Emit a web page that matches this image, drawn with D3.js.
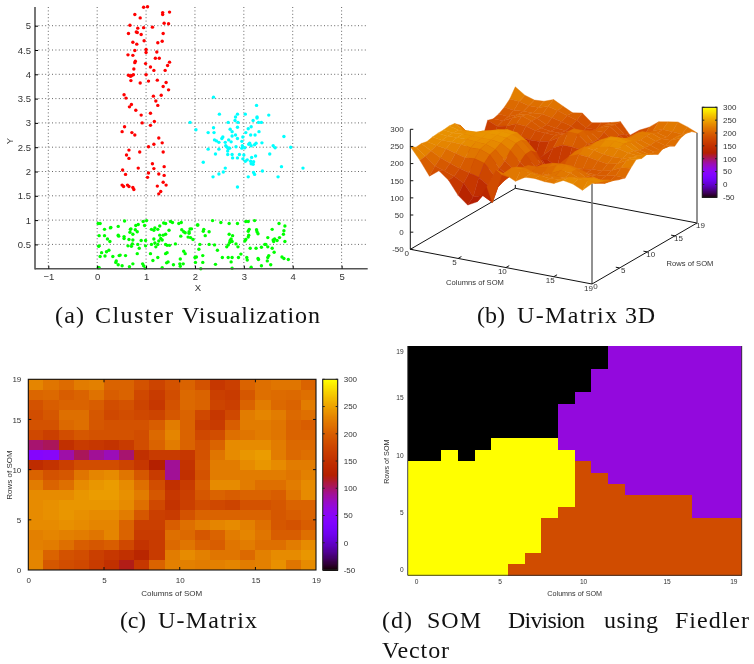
<!DOCTYPE html>
<html>
<head>
<meta charset="utf-8">
<script src="https://cdn.jsdelivr.net/npm/d3@7"></script>
<style>
  html, body { margin: 0; padding: 0; background: #fff; }
  svg { display: block; filter: blur(0.45px); }
  text { font-family: "Liberation Sans", sans-serif; fill: #333; }
  .caption { font-family: "Liberation Serif", serif; font-size: 24px; fill: #111; }
  .domain { display: none; }
  .cell { shape-rendering: crispEdges; }
</style>
</head>
<body>
<script>
// scatter points of panel a, as [x, y]
const redPoints = [[.95,5.38],[1.03,5.39],[.77,5.23],[.88,5.16],[1.34,5.27],[1.34,5.23],[1.48,5.28],[.67,5.01],[1.37,5.05],[1.46,5.04],[1.13,4.97],[.95,4.96],[.83,4.95],[.8,4.87],[.82,4.86],[.64,4.84],[.9,4.82],[1.35,4.84],[.96,4.69],[.73,4.66],[.81,4.62],[1.24,4.65],[1.33,4.68],[.77,4.49],[1,4.51],[1,4.45],[1.22,4.46],[.63,4.4],[.73,4.39],[1.19,4.33],[1.27,4.33],[.78,4.27],[.77,4.24],[.99,4.22],[1.48,4.25],[1.44,4.18],[1.09,4.15],[.75,4.11],[1.16,4.08],[1.39,4.08],[1,3.99],[.64,3.98],[.68,3.96],[.7,3.97],[.74,3.99],[.69,3.87],[.88,3.82],[1.05,3.86],[1.23,3.88],[1.41,3.83],[1.35,3.75],[1.46,3.68],[.55,3.58],[.59,3.51],[1.15,3.55],[1.31,3.57],[1.2,3.45],[.7,3.38],[.66,3.33],[1.24,3.36],[.79,3.26],[1.09,3.2],[.9,3.16],[.92,3],[1.17,3.03],[1.09,2.95],[.56,2.92],[.51,2.82],[.71,2.8],[.77,2.75],[1.26,2.69],[1.33,2.59],[1.16,2.56],[1.05,2.51],[.65,2.44],[.87,2.4],[1.35,2.4],[.6,2.34],[.65,2.27],[.52,2.03],[.58,1.94],[.84,2.07],[1.13,2.16],[1.16,2.06],[1.37,2.1],[1.05,1.97],[1.03,1.88],[1.26,1.95],[1.37,1.92],[1.35,1.78],[.51,1.72],[.54,1.69],[.62,1.72],[.65,1.69],[.73,1.67],[.75,1.63],[1.23,1.7],[1.41,1.72],[1.3,1.59],[1.26,1.54]];
const cyanPoints = [[2.38,3.53],[3.26,3.36],[2.5,3.18],[2.87,3.18],[3.03,3.18],[2.83,3.12],[3.51,3.16],[3.27,3.12],[3.27,3.1],[2.82,3.05],[2.68,3.01],[2.88,3.01],[3.19,3.05],[3.3,3.01],[3.36,3.01],[1.9,3.01],[2.02,2.86],[2.38,2.9],[2.27,2.8],[2.39,2.8],[2.87,2.91],[2.72,2.87],[2.76,2.82],[3.15,2.92],[3.09,2.88],[3.04,2.8],[3.31,2.82],[3.14,2.75],[3.23,2.75],[2.83,2.75],[2.76,2.73],[2.98,2.71],[3.82,2.72],[2.57,2.71],[2.55,2.68],[2.4,2.65],[2.44,2.63],[2.49,2.6],[2.69,2.65],[2.87,2.68],[2.74,2.61],[2.62,2.6],[2.96,2.62],[3.12,2.58],[3.1,2.56],[3.25,2.58],[3.37,2.59],[2.63,2.53],[2.66,2.5],[2.71,2.48],[2.68,2.47],[2.84,2.51],[2.97,2.53],[3.02,2.49],[2.96,2.48],[3.15,2.53],[3.22,2.55],[3.6,2.53],[3.64,2.49],[3.96,2.5],[2.27,2.46],[2.49,2.46],[2.42,2.36],[2.67,2.42],[2.67,2.35],[2.76,2.35],[2.91,2.35],[3,2.34],[2.77,2.28],[2.87,2.28],[2.98,2.26],[3.24,2.32],[3.16,2.29],[3.07,2.24],[3.03,2.21],[3.14,2.21],[3.2,2.2],[3.15,2.16],[3.19,2.15],[3.53,2.36],[2.17,2.19],[2.62,2.07],[2.58,1.99],[2.49,1.95],[2.37,1.89],[3.2,1.98],[3.22,1.94],[3.09,1.89],[3.38,2.01],[3.77,2.1],[3.7,1.89],[4.21,2.07],[2.87,1.68]];
const greenPoints = [[.56,.98],[.02,.93],[.06,.93],[.27,.84],[.15,.81],[.43,.87],[.79,.89],[.97,.89],[.68,.81],[.78,.8],[.67,.75],[.82,.76],[.94,.97],[1.01,.99],[1.36,.94],[1.4,.93],[1.5,.97],[1.54,.95],[1.67,.93],[1.72,.95],[1.11,.81],[1.18,.84],[1.16,.79],[1.24,.81],[1.28,.88],[1.47,.79],[1.73,.8],[1.77,.76],[1.8,.74],[1.9,.82],[1.93,.82],[1.88,.76],[2.05,.9],[.04,.68],[.15,.68],[.21,.61],[.26,.56],[.43,.69],[.44,.67],[.55,.66],[.55,.62],[.65,.6],[.73,.59],[.73,.71],[.9,.58],[.99,.58],[1.16,.61],[1.28,.69],[1.35,.69],[1.3,.62],[1.4,.71],[1.33,.59],[1.26,.57],[1.18,.53],[1.11,.5],[1.4,.5],[1.43,.48],[1.48,.48],[1.24,.5],[1.2,.45],[1.6,.51],[1.71,.67],[1.88,.73],[1.86,.65],[1.91,.64],[1.96,.6],[.63,.47],[.7,.46],[.72,.51],[.83,.5],[.86,.42],[.99,.47],[.04,.47],[.24,.38],[.09,.33],[.19,.35],[.16,.26],[.06,.25],[.32,.25],[.45,.27],[.47,.28],[.58,.27],[.82,.31],[1.09,.31],[1.14,.17],[1.24,.23],[1.4,.31],[1.43,.33],[1.33,.02],[1.77,.36],[1.8,.31],[2,.23],[2.08,.4],[.39,.16],[.38,.13],[.43,.08],[.51,.06],[.66,.04],[.73,.1],[.93,.1],[.95,.06],[.98,.01],[1.45,.14],[1.42,.12],[1.56,.08],[1.7,.2],[1.69,.1],[1.76,.1],[1.7,.05],[.02,.02],[.04,.02],[2.36,.99],[2.53,.95],[2.87,.93],[2.7,.93],[2.06,.9],[2.18,.81],[2.17,.77],[2.29,.76],[2.21,.68],[3.04,.97],[3.09,.97],[3.22,.99],[3.11,.81],[3.09,.77],[3.26,.8],[3.27,.76],[3.29,.72],[3.58,.81],[3.72,.93],[3.84,.88],[3.82,.78],[3.81,.71],[3.73,.64],[3.63,.61],[3.6,.59],[3.49,.64],[3.61,.56],[3.68,.58],[3.84,.56],[2.7,.71],[2.77,.68],[2.74,.61],[2.72,.58],[2.71,.54],[2.76,.56],[3.1,.69],[3.09,.65],[3.04,.6],[3.02,.57],[2.1,.5],[2.29,.5],[2.4,.49],[2.68,.49],[2.65,.45],[2.84,.51],[2.88,.45],[2.46,.38],[3.13,.42],[3.25,.42],[3.36,.44],[3.43,.5],[3.45,.5],[3.49,.45],[3.58,.42],[3.62,.34],[2.16,.27],[2.56,.23],[2.68,.23],[2.76,.23],[2.94,.3],[2.89,.23],[2.74,.14],[3.06,.23],[3.07,.18],[3.29,.21],[3.3,.19],[3.51,.27],[3.49,.23],[3.48,.16],[3.78,.24],[3.82,.21],[3.91,.19],[2.16,.13],[2.42,.09],[3.36,.06],[3.55,.08],[3.15,.03],[2.12,0],[2.76,.01],[2.03,.24],[2.01,.13],[.03,.46],[.28,.85],[.84,.91],[.69,.82]];

// panel c, one row per row of SOM (row 0 first), 19 cells each
const umatrixCells = [
  [232,195,185,180,165,150,120,160,205,228,228,225,228,232,225,228,239,220,236],
  [232,205,190,185,170,160,150,135,165,225,236,228,220,220,210,228,236,236,243],
  [228,225,215,200,195,200,180,155,165,210,220,205,200,220,225,215,215,225,236],
  [228,232,228,225,220,232,205,165,165,215,210,195,205,225,232,220,200,200,215],
  [236,236,239,236,232,232,205,170,170,200,215,225,232,236,228,215,195,190,200],
  [236,239,243,239,236,236,225,195,170,165,190,205,205,205,205,205,195,200,205],
  [236,239,243,243,243,243,236,215,180,155,170,185,180,175,190,190,195,205,205],
  [236,236,236,243,247,247,239,225,195,160,170,195,205,200,205,205,200,220,236],
  [225,205,215,236,243,247,236,215,185,150,165,200,236,236,225,215,215,225,236],
  [205,190,195,220,232,236,220,195,165,90,150,190,225,225,225,225,225,220,228],
  [145,155,170,185,185,185,175,160,125,90,155,195,225,225,236,243,236,225,225],
  [45,50,85,105,90,80,100,150,165,165,160,190,220,236,243,247,225,210,215],
  [100,105,150,165,160,155,165,185,205,225,205,190,205,236,236,236,225,210,210],
  [180,170,185,195,190,190,190,185,210,232,205,180,185,215,220,225,220,205,205],
  [190,190,210,215,195,190,190,190,200,225,205,170,165,200,225,225,220,205,200],
  [185,195,215,215,195,180,185,180,175,195,205,180,160,180,225,232,225,210,215],
  [190,200,205,205,200,185,190,175,160,190,210,205,175,170,205,225,210,205,225],
  [208,210,200,205,218,200,205,180,165,185,210,205,170,165,195,215,212,210,215],
  [232,220,212,225,228,205,205,190,175,190,205,190,160,170,205,215,220,220,205]
];

// panel b, heights at the 20x20 grid nodes (row 0 first)
const surfaceHeights = [
  [250,215,174,195,173,134,111,126,175,230,220,207,224,226,222,222,236,231,218,243],
  [238,217,194,185,175,161,125,135,120,206,231,231,226,226,222,224,236,236,237,236],
  [240,224,209,198,188,181,173,155,155,191,224,224,214,215,219,220,225,230,236,231],
  [236,230,226,218,210,213,205,176,163,189,214,208,201,213,226,224,213,210,220,225],
  [240,236,236,235,230,231,220,186,168,188,210,211,215,226,232,225,208,196,201,215],
  [242,238,240,240,238,236,226,199,176,176,193,209,218,221,220,214,203,195,199,208],
  [242,238,241,241,240,240,236,219,190,168,170,188,194,191,194,198,196,199,204,203],
  [244,238,240,242,244,244,241,231,204,173,164,180,191,190,193,198,198,205,218,222],
  [242,228,225,236,243,245,242,231,205,173,161,183,210,221,218,213,209,215,231,238],
  [228,206,201,218,236,241,237,218,190,148,139,176,214,233,229,223,220,221,229,232],
  [175,174,178,193,206,211,205,188,161,118,121,173,209,225,229,235,235,228,225,235],
  [70,99,115,136,141,135,135,146,150,136,143,175,208,228,239,243,240,225,219,226],
  [40,75,98,126,130,121,125,150,176,190,189,186,201,226,240,241,236,218,211,216],
  [150,139,153,174,178,174,175,181,196,219,218,195,190,211,229,231,228,215,208,226],
  [195,183,189,201,199,191,190,189,196,218,218,190,175,191,215,224,223,213,204,221],
  [190,190,203,214,205,190,186,186,186,199,208,190,169,176,208,228,226,215,208,212],
  [195,193,204,210,204,190,185,183,173,180,200,200,180,171,195,223,224,213,214,225],
  [205,202,204,204,207,201,195,188,170,175,199,208,189,170,184,210,215,209,214,230],
  [220,218,211,211,219,213,204,195,178,179,198,203,181,166,184,208,216,215,213,226],
  [246,227,218,220,230,216,202,207,184,189,195,203,169,189,203,224,229,234,225,213]
];

// panel d, cluster of each SOM cell (row 0 first): 0 black, 1 violet, 2 orange, 3 yellow
const clusterCells = [
  [3,3,3,3,3,3,2,2,2,2,2,2,2,2,2,2,2,2,2,2],
  [3,3,3,3,3,3,3,2,2,2,2,2,2,2,2,2,2,2,2,2],
  [3,3,3,3,3,3,3,3,2,2,2,2,2,2,2,2,2,2,2,2],
  [3,3,3,3,3,3,3,3,2,2,2,2,2,2,2,2,2,2,2,2],
  [3,3,3,3,3,3,3,3,2,2,2,2,2,2,2,2,2,2,2,2],
  [3,3,3,3,3,3,3,3,3,2,2,2,2,2,2,2,2,1,1,1],
  [3,3,3,3,3,3,3,3,3,3,2,2,2,2,2,2,2,1,1,1],
  [3,3,3,3,3,3,3,3,3,3,2,2,2,1,1,1,1,1,1,1],
  [3,3,3,3,3,3,3,3,3,3,2,2,1,1,1,1,1,1,1,1],
  [3,3,3,3,3,3,3,3,3,3,2,1,1,1,1,1,1,1,1,1],
  [0,0,3,0,3,3,3,3,3,3,1,1,1,1,1,1,1,1,1,1],
  [0,0,0,0,0,3,3,3,3,1,1,1,1,1,1,1,1,1,1,1],
  [0,0,0,0,0,0,0,0,0,1,1,1,1,1,1,1,1,1,1,1],
  [0,0,0,0,0,0,0,0,0,1,1,1,1,1,1,1,1,1,1,1],
  [0,0,0,0,0,0,0,0,0,1,1,1,1,1,1,1,1,1,1,1],
  [0,0,0,0,0,0,0,0,0,0,1,1,1,1,1,1,1,1,1,1],
  [0,0,0,0,0,0,0,0,0,0,0,1,1,1,1,1,1,1,1,1],
  [0,0,0,0,0,0,0,0,0,0,0,1,1,1,1,1,1,1,1,1],
  [0,0,0,0,0,0,0,0,0,0,0,0,1,1,1,1,1,1,1,1],
  [0,0,0,0,0,0,0,0,0,0,0,0,1,1,1,1,1,1,1,1]
];

const scatterXTicks = [-1, 0, 1, 2, 3, 4, 5];
const scatterYTicks = [0.5, 1, 1.5, 2, 2.5, 3, 3.5, 4, 4.5, 5];
const somTicks = [0, 5, 10, 15, 19];
const zTicks = [-50, 0, 50, 100, 150, 200, 250, 300];
// words placed one by one, the page was justified
const captionWords = ["(a)", "Cluster", "Visualization", "(b)", "U-Matrix", "3D", "(c)", "U-Matrix", "(d)", "SOM", "Division", "using", "Fiedler", "Vector"];
const captionLeft = [55, 95, 182, 477, 517, 625, 120, 158, 382, 427, 508, 604, 675, 382];
const captionRight = [84, 173, 320, 505, 617, 655, 146, 257, 412, 481, 585, 658, 749, 449];
const captionBase = [323, 323, 323, 323, 323, 323, 628, 628, 628, 628, 628, 628, 628, 658];

// gnuplot's default pm3d palette (rgbformulae 7,5,15)
const palette = g => {
  const b = Math.max(0, Math.sin(2 * Math.PI * g));
  return d3.rgb(Math.sqrt(g) * 255, g * g * g * 255, b * 255).formatRgb();
};
const heat = d3.scaleLinear().domain([-50, 300]).range([0, 1]).clamp(true);
const heatColor = v => palette(heat(v));
const clusterColor = d3.scaleLinear().domain([0, 3]).range([0, 1]);

const svg = d3.select("body").append("svg").attr("width", 754).attr("height", 664);

svg.selectAll("text.caption").data(captionWords).enter().append("text")
  .attr("class", "caption")
  .attr("x", (d, i) => captionLeft[i]).attr("y", (d, i) => captionBase[i])
  .attr("textLength", (d, i) => captionRight[i] - captionLeft[i]).attr("lengthAdjust", "spacing")
  .text(d => d);

function styleTicks(g, size) {
  g.selectAll("text").style("font-size", size + "px");
}

function label(text, x, y, size, rotate) {
  svg.append("text").attr("text-anchor", "middle")
    .attr("transform", `translate(${x},${y})` + (rotate ? " rotate(-90)" : ""))
    .style("font-size", size + "px").text(text);
}

// ---- panel a
{
  const x = d3.scaleLinear().domain([-1, 5]).range([48.3, 341.6]);
  const y = d3.scaleLinear().domain([0, 5]).range([268.7, 25.7]);
  const g = svg.append("g");
  const grid = g.append("g").attr("stroke", "#666").attr("stroke-dasharray", "1 2.4").attr("stroke-width", 1);
  grid.selectAll("line.v").data(scatterXTicks).enter().append("line")
    .attr("x1", x).attr("x2", x).attr("y1", 7).attr("y2", 268.7);
  grid.selectAll("line.h").data(scatterYTicks).enter().append("line")
    .attr("x1", 35).attr("x2", 367.7).attr("y1", y).attr("y2", y);
  [[redPoints, "#ff0000"], [cyanPoints, "#00ffff"], [greenPoints, "#00ff00"]].forEach(([pts, col]) => {
    g.append("g").selectAll("circle").data(pts).enter().append("circle")
      .attr("cx", d => x(d[0])).attr("cy", d => y(d[1])).attr("r", 1.7).attr("fill", col);
  });
  g.append("line").attr("x1", 35).attr("x2", 35).attr("y1", 7).attr("y2", 269.5).attr("stroke", "#555").attr("stroke-width", 1.6);
  g.append("line").attr("x1", 35).attr("x2", 367.7).attr("y1", 268.7).attr("y2", 268.7).attr("stroke", "#555").attr("stroke-width", 1.6);
  const ax = g.append("g").attr("transform", "translate(0,268.7)")
    .call(d3.axisBottom(x).tickValues(scatterXTicks).tickSizeInner(-3).tickSizeOuter(0).tickPadding(5).tickFormat(d3.format("d")));
  const ay = g.append("g").attr("transform", "translate(35,0)")
    .call(d3.axisLeft(y).tickValues(scatterYTicks).tickSizeInner(-3).tickSizeOuter(0).tickPadding(4).tickFormat(d3.format("~g")));
  styleTicks(ax, 9.5); styleTicks(ay, 9.5);
  label("X", 198, 290.5, 9.5);
  label("Y", 13, 141, 9.5, true);
}

// ---- panel b
{
  // screen position = column offset + row offset + height offset, anchored at node (0,0)
  const colX = d3.scaleLinear().domain([0, 19]).range([410.3, 592]);
  const colY = d3.scaleLinear().domain([0, 19]).range([249.3, 284]);
  const rowX = d3.scaleLinear().domain([0, 19]).range([0, 105]);
  const rowY = d3.scaleLinear().domain([0, 19]).range([0, -61]);
  const zY = d3.scaleLinear().domain([-50, 300]).range([0, -120]);
  const px = (c, r) => colX(c) + rowX(r);
  const py = (c, r, z) => colY(c) + rowY(r) + zY(z);
  const g = svg.append("g");
  const frame = (a, b, col, w) => g.append("line")
    .attr("x1", px(a[0], a[1])).attr("y1", py(a[0], a[1], a[2]))
    .attr("x2", px(b[0], b[1])).attr("y2", py(b[0], b[1], b[2]))
    .attr("stroke", col).attr("stroke-width", w);

  frame([0, 19, -50], [19, 19, -50], "#111", 1);
  frame([0, 0, -50], [0, 19, -50], "#111", 1);
  frame([0, 19, -50], [0, 19, -40], "#111", 1);
  frame([19, 0, -50], [19, 0, surfaceHeights[0][19]], "#777", 1.6);
  frame([19, 19, -50], [19, 19, surfaceHeights[19][19]], "#777", 1.6);

  const quads = [];
  d3.range(19).forEach(r => d3.range(19).forEach(c => {
    const h = surfaceHeights;
    quads.push({ c, r, z: d3.mean([h[r][c], h[r][c + 1], h[r + 1][c], h[r + 1][c + 1]]) });
  }));
  // far corner first
  quads.sort((a, b) => (a.c - a.r) - (b.c - b.r));
  const corner = (c, r) => [px(c, r), py(c, r, surfaceHeights[r][c])];
  g.append("g").selectAll("path").data(quads).enter().append("path")
    .attr("d", d => "M" + [corner(d.c, d.r), corner(d.c + 1, d.r), corner(d.c + 1, d.r + 1), corner(d.c, d.r + 1)].join("L") + "Z")
    .attr("fill", d => heatColor(d.z))
    .attr("stroke", d => heatColor(d.z)).attr("stroke-width", 0.4).attr("stroke-linejoin", "round");

  frame([0, 0, -50], [19, 0, -50], "#111", 1);
  frame([19, 0, -50], [19, 19, -50], "#111", 1);
  frame([0, 0, -50], [0, 0, 300], "#111", 1);

  g.append("g").selectAll("line").data(zTicks).enter().append("line")
    .attr("x1", px(0, 0)).attr("x2", px(0, 0) + 3)
    .attr("y1", d => py(0, 0, d)).attr("y2", d => py(0, 0, d))
    .attr("stroke", "#111");
  const tk = g.append("g").attr("stroke", "#111");
  [5, 10, 15].forEach(t => {
    tk.append("line").attr("x1", px(t, 0)).attr("y1", py(t, 0, -50)).attr("x2", px(t, 0.6)).attr("y2", py(t, 0.6, -50));
    tk.append("line").attr("x1", px(19, t)).attr("y1", py(19, t, -50)).attr("x2", px(18.6, t)).attr("y2", py(18.6, t, -50));
  });
  const txt = g.append("g").style("font-size", "8px");
  txt.selectAll("text.z").data(zTicks).enter().append("text")
    .attr("x", px(0, 0) - 6.6).attr("y", d => py(0, 0, d)).attr("dy", ".35em")
    .attr("text-anchor", "end").text(d => String(d));
  txt.selectAll("text.c").data(somTicks).enter().append("text")
    .attr("x", d => px(d, 0) - 3.6).attr("y", d => py(d, 0, -50) + 4).attr("dy", ".35em")
    .attr("text-anchor", "middle").text(d => d);
  txt.selectAll("text.r").data(somTicks).enter().append("text")
    .attr("x", d => px(19, d) + 3.5).attr("y", d => py(19, d, -50) + 2).attr("dy", ".35em")
    .attr("text-anchor", "middle").text(d => d);
  label("Columns of SOM", 475, 285, 7.6);
  label("Rows of SOM", 690, 266, 7.6);

  colorbar(702.3, 717, 107.3, 197.3, zTicks, 8);
}

// vertical palette bar with black frame and ticks on both sides
function colorbar(x0, x1, y0, y1, ticks, size) {
  const y = d3.scaleLinear().domain([-50, 300]).range([y1, y0]);
  const g = svg.append("g");
  const steps = d3.range(-50, 300, 1);
  g.selectAll("rect").data(steps).enter().append("rect")
    .attr("class", "cell")
    .attr("x", x0).attr("width", x1 - x0)
    .attr("y", d => y(d + 1)).attr("height", d => y(d) - y(d + 1) + 0.6)
    .attr("fill", d => heatColor(d + 0.5));
  g.append("rect").attr("x", x0).attr("y", y0).attr("width", x1 - x0).attr("height", y1 - y0)
    .attr("fill", "none").attr("stroke", "#222").attr("stroke-width", 1.1);
  g.selectAll("line.l").data(ticks).enter().append("line")
    .attr("x1", x0).attr("x2", x0 + 2).attr("y1", y).attr("y2", y).attr("stroke", "#222");
  g.selectAll("line.r").data(ticks).enter().append("line")
    .attr("x1", x1 - 2).attr("x2", x1).attr("y1", y).attr("y2", y).attr("stroke", "#222");
  g.selectAll("text").data(ticks).enter().append("text")
    .attr("x", x1 + 6).attr("y", y).attr("dy", ".35em").style("font-size", size + "px")
    .text(d => String(d));
}

// ---- panel c
{
  const x = d3.scaleLinear().domain([0, 19]).range([28.3, 316]);
  const y = d3.scaleLinear().domain([0, 19]).range([570, 379.3]);
  const g = svg.append("g");
  umatrixCells.forEach((row, r) => {
    g.append("g").selectAll("rect").data(row).enter().append("rect")
      .attr("class", "cell")
      .attr("x", (d, c) => x(c)).attr("width", x(1) - x(0) + 0.4)
      .attr("y", y(r + 1)).attr("height", y(0) - y(1) + 0.4)
      .attr("fill", d => heatColor(d));
  });
  g.append("rect").attr("x", x(0)).attr("y", y(19)).attr("width", x(19) - x(0)).attr("height", y(0) - y(19))
    .attr("fill", "none").attr("stroke", "#111").attr("stroke-width", 1.1);
  const inner = somTicks.slice(1, 4);
  const tk = g.append("g").attr("stroke", "#111");
  inner.forEach(t => {
    tk.append("line").attr("x1", x(t)).attr("x2", x(t)).attr("y1", y(0)).attr("y2", y(0) - 3);
    tk.append("line").attr("x1", x(t)).attr("x2", x(t)).attr("y1", y(19)).attr("y2", y(19) + 3);
    tk.append("line").attr("y1", y(t)).attr("y2", y(t)).attr("x1", x(0)).attr("x2", x(0) + 3);
    tk.append("line").attr("y1", y(t)).attr("y2", y(t)).attr("x1", x(19)).attr("x2", x(19) - 3);
  });
  const ax = g.append("g").attr("transform", `translate(0,${y(0)})`)
    .call(d3.axisBottom(x).tickValues(somTicks).tickSize(0).tickPadding(7));
  const ay = g.append("g").attr("transform", `translate(${x(0)},0)`)
    .call(d3.axisLeft(y).tickValues(somTicks).tickSize(0).tickPadding(7));
  styleTicks(ax, 8); styleTicks(ay, 8);
  label("Columns of SOM", 171.7, 595.5, 8);
  label("Rows of SOM", 11.5, 475, 8, true);
  colorbar(322.7, 337.7, 379.3, 570, zTicks, 8);
}

// ---- panel d
{
  const x = d3.scaleLinear().domain([-0.5, 19.5]).range([407.7, 741.7]);
  const y = d3.scaleLinear().domain([-0.5, 19.5]).range([575.3, 346]);
  const g = svg.append("g");
  clusterCells.forEach((row, r) => {
    g.append("g").selectAll("rect").data(row).enter().append("rect")
      .attr("class", "cell")
      .attr("x", (d, c) => x(c - 0.5)).attr("width", x(1) - x(0) + 0.4)
      .attr("y", y(r + 0.5)).attr("height", y(0) - y(1) + 0.4)
      .attr("fill", d => palette(clusterColor(d)));
  });
  g.append("path").attr("d", `M${x(-0.5)},${y(19.5)}V${y(-0.5)}H${x(19.5)}V${y(19.5)}`)
    .attr("fill", "none").attr("stroke", "#333").attr("stroke-width", 0.9);
  const ax = g.append("g").attr("transform", `translate(0,${y(-0.5)})`)
    .call(d3.axisBottom(x).tickValues(somTicks).tickSize(0).tickPadding(4));
  const ay = g.append("g").attr("transform", `translate(${x(-0.5)},0)`)
    .call(d3.axisLeft(y).tickValues(somTicks).tickSize(0).tickPadding(4));
  styleTicks(ax, 6.6); styleTicks(ay, 6.6);
  label("Columns of SOM", 574.7, 596, 7.2);
  label("Rows of SOM", 388.5, 461.7, 7.2, true);
}
</script>
</body>
</html>
